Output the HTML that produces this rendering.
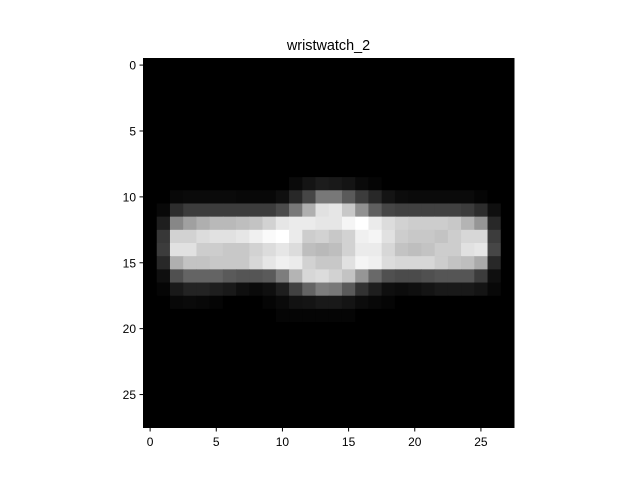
<!DOCTYPE html>
<html><head><meta charset="utf-8"><style>
body{margin:0;background:#fff;}
svg text{font-family:"Liberation Sans","DejaVu Sans",sans-serif;}
</style></head><body>
<svg id="chart" width="640" height="480" xmlns="http://www.w3.org/2000/svg">
<rect width="640" height="480" fill="#fff"/>
<text x="328.5" y="50" font-size="14.4" text-anchor="middle">wristwatch_2</text>
<g id="cells"></g>
<rect x="143.5" y="58.5" width="370.5" height="369" fill="none" stroke="#000" stroke-width="1"/>
<g id="ticks"></g>
</svg>
<script>
const Z=[0,0,0,0,0,0,0,0,0,0,0,0,0,0,0,0,0,0,0,0,0,0,0,0,0,0,0,0];
const pixelRows=[
Z,Z,Z,Z,Z,Z,Z,Z,Z,
[0,0,0,0,0,0,0,0,0,0,0,10,20,28,25,20,10,5,0,0,0,0,0,0,0,0,0,0],
[0,0,8,10,10,10,10,8,8,8,15,40,70,120,120,90,60,40,20,12,10,10,10,10,10,5,0,0],
[0,8,45,60,60,60,60,60,60,60,75,120,175,225,230,200,145,95,70,65,65,65,65,65,60,45,15,0],
[0,30,135,160,175,185,185,190,195,210,230,235,235,230,230,245,255,235,220,210,205,205,205,200,180,150,40,0],
[0,55,210,210,220,225,225,230,240,250,255,235,205,210,200,210,240,245,225,205,200,200,195,205,215,215,60,0],
[0,60,225,225,205,205,200,200,210,220,230,220,190,185,190,210,235,235,215,195,190,195,205,205,225,230,70,0],
[0,40,175,195,195,200,200,200,215,230,240,235,210,200,200,225,245,240,220,215,215,215,205,195,190,170,40,0],
[0,15,80,100,100,100,90,85,85,90,125,180,215,220,210,195,150,105,80,75,75,80,85,85,85,60,15,0],
[0,5,25,35,35,30,25,15,10,15,30,65,100,125,120,90,50,30,15,12,15,20,25,25,25,20,8,0],
[0,0,8,10,8,5,0,0,0,5,10,18,20,25,25,20,12,8,5,0,0,0,0,0,0,0,0,0],
[0,0,0,0,0,0,0,0,0,0,5,5,5,5,5,5,0,0,0,0,0,0,0,0,0,0,0,0],
Z,Z,Z,Z,Z,Z,Z,Z];
const xTickLabels=[0,5,10,15,20,25];
const yTickLabels=[0,5,10,15,20,25];
const NS="http://www.w3.org/2000/svg";
const x0=143.5,y0=58.5,cw=370.5/28,ch=369/28;
const sx=v=>x0+(v+0.5)*cw, sy=v=>y0+(v+0.5)*ch;
const g=document.getElementById('cells');
pixelRows.forEach((row,r)=>row.forEach((v,c)=>{
  const e=document.createElementNS(NS,'rect');
  e.setAttribute('x',sx(c)-cw/2);e.setAttribute('y',sy(r)-ch/2);
  e.setAttribute('width',cw+0.5);e.setAttribute('height',ch+0.5);
  e.setAttribute('fill',`rgb(${v},${v},${v})`);
  
  
  g.appendChild(e);
}));
const t=document.getElementById('ticks');
function add(tag,attrs,txt){const e=document.createElementNS(NS,tag);for(const k in attrs)e.setAttribute(k,attrs[k]);if(txt!==undefined)e.textContent=txt;t.appendChild(e);return e;}
xTickLabels.forEach(v=>{
  const x=sx(v);
  add('line',{x1:x,x2:x,y1:427.5,y2:431.5,stroke:'#000'});
  const e=add('text',{x:x,y:446,'font-size':12,'text-anchor':'middle'},v);
  
  
});
yTickLabels.forEach(v=>{
  const y=sy(v);
  add('line',{x1:139.5,x2:143.5,y1:y,y2:y,stroke:'#000'});
  const e=add('text',{x:136,y:y+4.5,'font-size':12,'text-anchor':'end'},v);
  
  
});
</script>
</body></html>
